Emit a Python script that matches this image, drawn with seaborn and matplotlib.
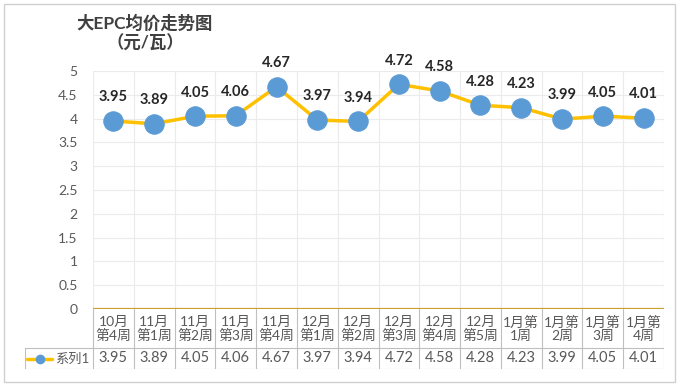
import matplotlib
matplotlib.use("Agg")
import matplotlib.pyplot as plt
import seaborn as sns
import pandas as pd

# === DATA ===
weeks = ["10月\n第4周", "11月\n第1周", "11月\n第2周", "11月\n第3周", "11月\n第4周",
         "12月\n第1周", "12月\n第2周", "12月\n第3周", "12月\n第4周", "12月\n第5周",
         "1月第\n1周", "1月第\n2周", "1月第\n3周", "1月第\n4周"]
prices = [3.95, 3.89, 4.05, 4.06, 4.67, 3.97, 3.94, 4.72, 4.58, 4.28, 4.23, 3.99, 4.05, 4.01]
series_name = "系列1"
title = "大EPC均价走势图\n（元/瓦）"

LINE = "#FFC000"
DOT = "#5B9BD5"
GRID = "#EBEBEB"
TXT = "#595959"

sns.set_theme(style="white")
plt.rcParams["font.family"] = ["Lato", "Noto Sans CJK SC", "DejaVu Sans"]

W, H = 680, 388
fig = plt.figure(figsize=(W / 100, H / 100), dpi=100)

# outer frame
fig.add_artist(plt.Rectangle((4 / W, 6 / H), 671 / W, 378 / H, transform=fig.transFigure,
                             fill=False, edgecolor="#D0D0D0", linewidth=1))

x0, x1 = 93, 664
y_zero, y_top = 309, 71
ax = fig.add_axes([x0 / W, 1 - y_zero / H, (x1 - x0) / W, (y_zero - y_top) / H])

df = pd.DataFrame({"pos": range(len(weeks)), "price": prices})
n = len(weeks)

# grid
for v in [i * 0.5 for i in range(1, 11)]:
    ax.axhline(v, color=GRID, linewidth=0.8, zorder=0)
for b in range(n + 1):
    ax.axvline(b - 0.5, color=GRID, linewidth=0.8, zorder=0)
ax.axhline(0, color="#C9A02A", linewidth=1.6, zorder=1)

sns.lineplot(data=df, x="pos", y="price", ax=ax, color=LINE, linewidth=2.5,
             marker="o", markersize=14, markerfacecolor=DOT, markeredgecolor=DOT,
             zorder=3)

for i, p in enumerate(prices):
    ax.annotate(f"{p:.2f}", (i, p), xytext=(0, 12), textcoords="offset points",
                ha="center", va="bottom", fontsize=10.5, fontweight="bold", color="#262626")

ax.set_xlim(-0.5, n - 0.5)
ax.set_ylim(0, 5)
ax.set_yticks([i * 0.5 for i in range(11)])
ax.set_yticklabels([f"{i * 0.5:g}" for i in range(11)], fontsize=10, color=TXT)
ax.tick_params(axis="y", length=0, pad=11)
ax.set_xticks([])
ax.set_xlabel("")
ax.set_ylabel("")
for s in ax.spines.values():
    s.set_visible(False)

# === DATA TABLE ===
tl = 25
col_px = (x1 - x0) / n
left_units = (x0 - tl) / col_px
tax = fig.add_axes([tl / W, 1 - 369 / H, (x1 - tl) / W, 60 / H])
tax.set_xlim(-0.5 - left_units, n - 0.5)
tax.set_ylim(0, 60)
tax.axis("off")
bc = "#BFBFBF"
tax.plot([-0.5 - left_units, n - 0.5], [21, 21], color=bc, lw=0.8)
tax.plot([-0.5 - left_units, n - 0.5], [0, 0], color=bc, lw=0.8)
tax.plot([-0.5 - left_units] * 2, [0, 21], color=bc, lw=0.8)
for b in range(n + 1):
    tax.plot([b - 0.5] * 2, [0, 60], color=bc, lw=0.8)
for i, (w, p) in enumerate(zip(weeks, prices)):
    tax.text(i, 40, w, ha="center", va="center", fontsize=10, color=TXT, linespacing=1.1)
    tax.text(i, 10.5, f"{p:.2f}", ha="center", va="center", fontsize=10.5, color=TXT)

lx0 = -0.5 - left_units + 2 / col_px
lx1 = lx0 + 25 / col_px
tax.plot([lx0, lx1], [10.5, 10.5], color=LINE, lw=2.5)
tax.plot([(lx0 + lx1) / 2], [10.5], marker="o", markersize=6, color=DOT)
tax.text(lx1 + 3 / col_px, 10.5, series_name, ha="left", va="center", fontsize=9.5, color=TXT)

fig.text(145 / W, 1 - 33 / H, title, ha="center", va="center", fontsize=12.5,
         fontweight="bold", color="#404040", linespacing=1.2)

fig.savefig("out.png", dpi=100)
